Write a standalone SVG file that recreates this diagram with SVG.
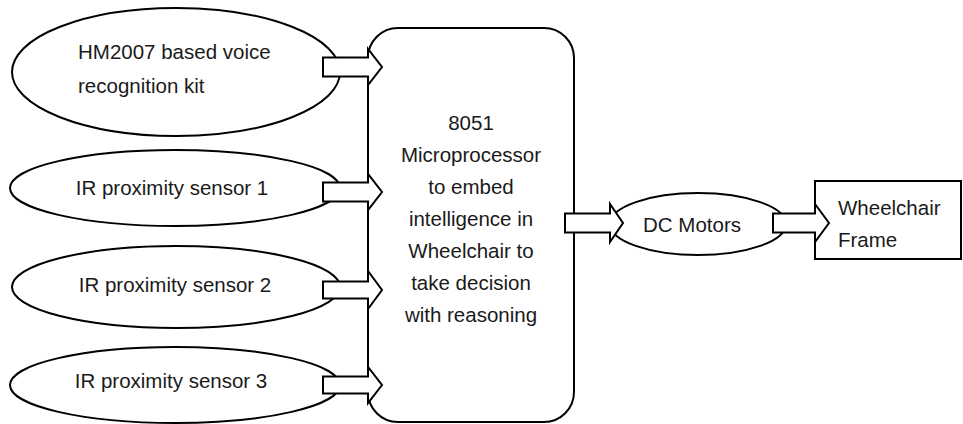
<svg xmlns="http://www.w3.org/2000/svg" width="963" height="424" viewBox="0 0 963 424">
<style>
.shape{fill:#fff;stroke:#000;stroke-width:2}
.arrow{fill:#fff;stroke:#000;stroke-width:2;stroke-linejoin:miter}
text{font-family:"Liberation Sans",Arial,sans-serif;font-size:20.5px;fill:#1a1a1a}
.c{text-anchor:middle}
</style>
<rect width="963" height="424" fill="#fff"/>
<g id="nodes">
<g id="voice-kit">
<ellipse class="shape" cx="176" cy="72" rx="164" ry="64"/>
<text x="78" y="59">HM2007 based voice</text>
<text x="78" y="93">recognition kit</text>
</g>
<g id="ir1">
<ellipse class="shape" cx="175" cy="188" rx="165" ry="38"/>
<text class="c" x="172" y="195">IR proximity sensor 1</text>
</g>
<g id="ir2">
<ellipse class="shape" cx="176" cy="287" rx="164" ry="41"/>
<text class="c" x="175" y="292">IR proximity sensor 2</text>
</g>
<g id="ir3">
<ellipse class="shape" cx="175" cy="385" rx="165" ry="38"/>
<text class="c" x="171" y="388">IR proximity sensor 3</text>
</g>
<g id="mcu">
<rect class="shape" x="368" y="28" width="206" height="394" rx="30" ry="30"/>
<text class="c" x="471" y="130">8051</text>
<text class="c" x="471" y="162">Microprocessor</text>
<text class="c" x="471" y="194">to embed</text>
<text class="c" x="471" y="226">intelligence in</text>
<text class="c" x="471" y="258">Wheelchair to</text>
<text class="c" x="471" y="290">take decision</text>
<text class="c" x="471" y="322">with reasoning</text>
</g>
<g id="dc-motors">
<ellipse class="shape" cx="698" cy="224" rx="88" ry="31"/>
<text x="643" y="232">DC Motors</text>
</g>
<g id="frame">
<rect class="shape" x="815" y="181" width="146" height="78"/>
<text x="838" y="215">Wheelchair</text>
<text x="838" y="247">Frame</text>
</g>
</g>
<g id="connectors">
<path class="arrow" d="M323,57.5 H368 V49 L382,67 L368,85 V76.5 H323 Z"/>
<path class="arrow" d="M323,182.5 H368 V174 L382,192 L368,210 V201.5 H323 Z"/>
<path class="arrow" d="M323,281.5 H368 V271 L382,290 L368,309 V298.5 H323 Z"/>
<path class="arrow" d="M323,376.5 H368 V367 L382,385 L368,403 V393.5 H323 Z"/>
<path class="arrow" d="M565,213.5 H610 V204 L623,223 L610,242 V232.5 H565 Z"/>
<path class="arrow" d="M773,213.5 H815 V204 L829,223 L815,242 V232.5 H773 Z"/>
</g>
</svg>
